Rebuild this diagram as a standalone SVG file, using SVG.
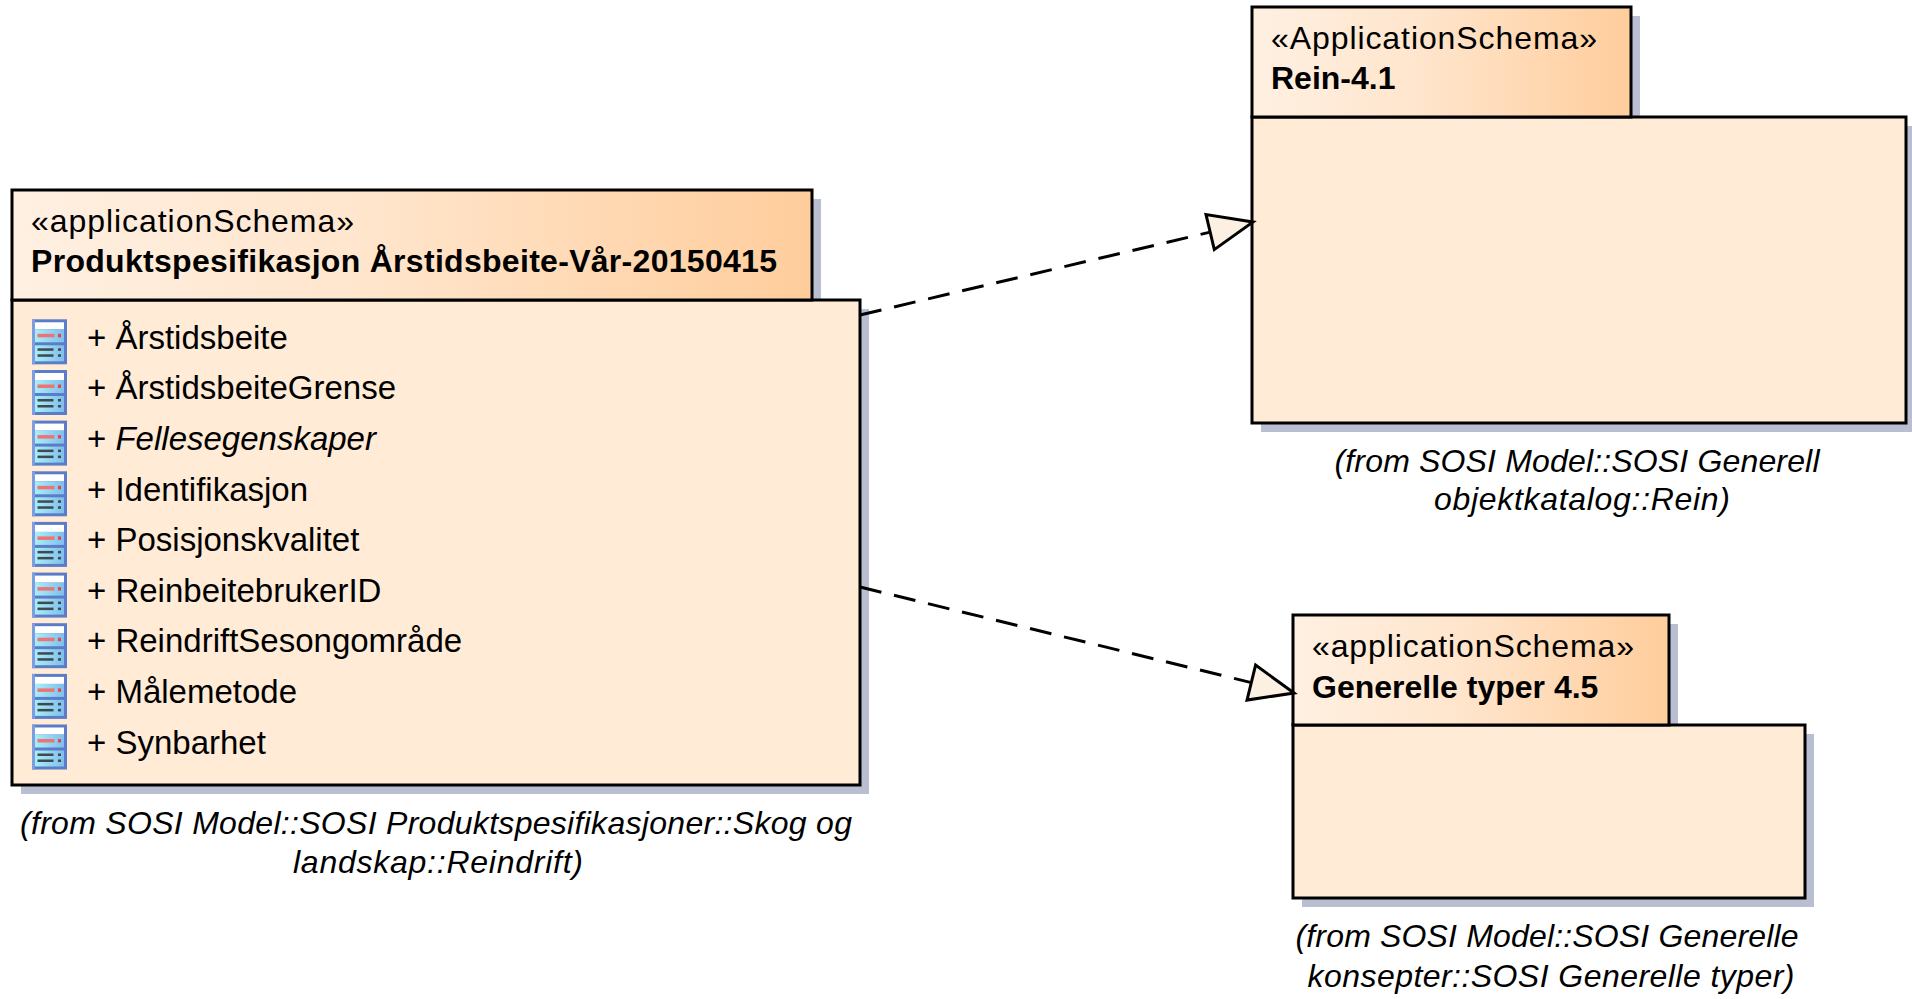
<svg xmlns="http://www.w3.org/2000/svg" xmlns:xlink="http://www.w3.org/1999/xlink" width="1912" height="999" viewBox="0 0 1912 999">
<style>
.bg{fill:#FFFFFF}
.shadow{fill:#B9BFD0}
.body{fill:#FFEBD6;stroke:#000;stroke-width:3}
.tab{fill:url(#hdr);stroke:#000;stroke-width:3}
.t{font-family:'Liberation Sans',Arial,sans-serif;font-size:32px;fill:#000}
.it{font-family:'Liberation Sans',Arial,sans-serif;font-size:33px;fill:#000}
.b{font-weight:bold}
.i{font-style:italic}
.cap{font-family:'Liberation Sans',Arial,sans-serif;font-size:32px;font-style:italic;fill:#000;text-anchor:middle}
.dep{fill:none;stroke:#000;stroke-width:3;stroke-dasharray:22 13}
.head{fill:#FBF0E1;stroke:#000;stroke-width:3;stroke-linejoin:miter}
</style>
<defs>
<linearGradient id="hdr" x1="0" y1="0" x2="1" y2="0">
<stop offset="0" stop-color="#FFF0E2"/>
<stop offset="0.45" stop-color="#FFE5CC"/>
<stop offset="1" stop-color="#FFCD9C"/>
</linearGradient>
<linearGradient id="iconFill" x1="0" y1="0" x2="1" y2="0">
<stop offset="0" stop-color="#A8EEF8"/>
<stop offset="1" stop-color="#80BEEC"/>
</linearGradient>
<g id="clsicon">
<rect x="0" y="0" width="35" height="45" fill="#5B7DC8"/>
<rect x="0" y="0" width="3" height="45" fill="#7C9DE0"/>
<rect x="3" y="3" width="29" height="7" fill="#FFFFFF"/>
<rect x="3" y="10" width="29" height="13" fill="url(#iconFill)"/>
<rect x="3" y="26" width="29" height="16" fill="url(#iconFill)"/>
<rect x="5.5" y="14.5" width="17" height="3.5" fill="#EE7474"/>
<rect x="26" y="14.5" width="3" height="3.5" fill="#E84444"/>
<rect x="5.5" y="29" width="16" height="2.5" fill="#404850"/>
<rect x="26" y="29" width="3" height="2.5" fill="#404850"/>
<rect x="5.5" y="35" width="16" height="2.5" fill="#404850"/>
<rect x="26" y="35" width="3" height="2.5" fill="#404850"/>
</g>
</defs>
<rect class="bg" x="0" y="0" width="1912" height="999"/>

<g id="pkg-produktspesifikasjon">
<rect class="shadow" x="21" y="199" width="800" height="110"/>
<rect class="shadow" x="21" y="309" width="848" height="485"/>
<rect class="body" x="12" y="300" width="848" height="485"/>
<rect class="tab" x="12" y="190" width="800" height="110"/>
<text class="t" x="31" y="232" textLength="323" lengthAdjust="spacing">«applicationSchema»</text>
<text class="t b" x="31" y="272" textLength="746" lengthAdjust="spacing">Produktspesifikasjon Årstidsbeite-Vår-20150415</text>
<use xlink:href="#clsicon" href="#clsicon" x="32" y="319.3"/>
<use xlink:href="#clsicon" href="#clsicon" x="32" y="370"/>
<use xlink:href="#clsicon" href="#clsicon" x="32" y="420.6"/>
<use xlink:href="#clsicon" href="#clsicon" x="32" y="471.3"/>
<use xlink:href="#clsicon" href="#clsicon" x="32" y="521.9"/>
<use xlink:href="#clsicon" href="#clsicon" x="32" y="572.6"/>
<use xlink:href="#clsicon" href="#clsicon" x="32" y="623.2"/>
<use xlink:href="#clsicon" href="#clsicon" x="32" y="673.9"/>
<use xlink:href="#clsicon" href="#clsicon" x="32" y="724.5"/>
<text class="it" x="87" y="348.5">+ Årstidsbeite</text>
<text class="it" x="87" y="399.2">+ ÅrstidsbeiteGrense</text>
<text class="it" x="87" y="449.8">+ <tspan class="i">Fellesegenskaper</tspan></text>
<text class="it" x="87" y="500.5">+ Identifikasjon</text>
<text class="it" x="87" y="551.1">+ Posisjonskvalitet</text>
<text class="it" x="87" y="601.8">+ ReinbeitebrukerID</text>
<text class="it" x="87" y="652.4">+ ReindriftSesongområde</text>
<text class="it" x="87" y="703.1">+ Målemetode</text>
<text class="it" x="87" y="753.7">+ Synbarhet</text>
<text class="cap" x="436" y="834" textLength="832" lengthAdjust="spacing">(from SOSI Model::SOSI Produktspesifikasjoner::Skog og</text>
<text class="cap" x="438" y="873" textLength="290" lengthAdjust="spacing">landskap::Reindrift)</text>
</g>

<g id="pkg-rein">
<rect class="shadow" x="1261" y="16" width="379" height="110"/>
<rect class="shadow" x="1261" y="126" width="654" height="306"/>
<rect class="body" x="1252" y="117" width="654" height="306"/>
<rect class="tab" x="1252" y="7" width="379" height="110"/>
<text class="t" x="1271" y="49" textLength="326" lengthAdjust="spacing">«ApplicationSchema»</text>
<text class="t b" x="1271" y="89">Rein-4.1</text>
<text class="cap" x="1577" y="472" textLength="485" lengthAdjust="spacing">(from SOSI Model::SOSI Generell</text>
<text class="cap" x="1582" y="510" textLength="296" lengthAdjust="spacing">objektkatalog::Rein)</text>
</g>

<g id="pkg-generelle-typer">
<rect class="shadow" x="1302" y="624" width="376" height="110"/>
<rect class="shadow" x="1302" y="734" width="512" height="173"/>
<rect class="body" x="1293" y="725" width="512" height="173"/>
<rect class="tab" x="1293" y="615" width="376" height="110"/>
<text class="t" x="1312" y="657" textLength="322" lengthAdjust="spacing">«applicationSchema»</text>
<text class="t b" x="1312" y="698">Generelle typer 4.5</text>
<text class="cap" x="1547" y="947" textLength="503" lengthAdjust="spacing">(from SOSI Model::SOSI Generelle</text>
<text class="cap" x="1551" y="987" textLength="487" lengthAdjust="spacing">konsepter::SOSI Generelle typer)</text>
</g>

<g id="connectors">
<path class="dep" d="M860,315 L1210.2,232.1"/>
<polygon class="head" points="1253,222 1206,214.6 1214.3,249.6"/>
<path class="dep" d="M860,587 L1251.3,682.6"/>
<polygon class="head" points="1294,693 1255.6,665.1 1247,700.1"/>
</g>
</svg>
